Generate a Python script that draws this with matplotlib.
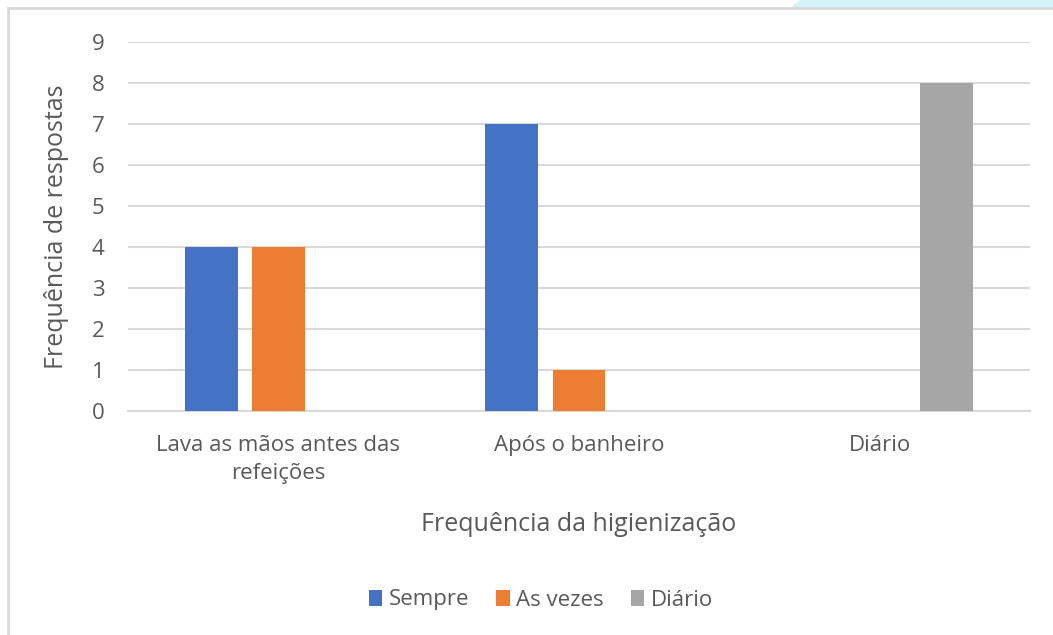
import matplotlib
matplotlib.use("Agg")
import matplotlib.pyplot as plt
import numpy as np
from matplotlib.patches import Rectangle, Polygon

categories = ["Lava as mãos antes das\nrefeições", "Após o banheiro", "Diário"]
series_names = ["Sempre", "As vezes", "Diário"]
sempre = [4, 7, 0]
as_vezes = [4, 1, 0]
diario = [0, 0, 8]
colors = ["#4472C4", "#ED7D31", "#A5A5A5"]
yticks = list(range(0, 10))

plt.rcParams['font.family'] = ['Open Sans', 'DejaVu Sans']
txt = "#595959"

fig = plt.figure(figsize=(10.53, 6.35), dpi=100)
# outer chart border and decoration
fig.patches.append(Polygon([[800/1053, 1], [1, 1], [1, 1 - 8/635], [790/1053, 1 - 8/635]],
                           closed=True, transform=fig.transFigure, facecolor="#d2f4f8",
                           edgecolor="none", zorder=0))
fig.patches.append(Rectangle((8/1053, -0.1), 1.2, 1 - 8/635 + 0.1, transform=fig.transFigure,
                             fill=False, edgecolor="#d9d9d9", linewidth=2, zorder=1))

ax = fig.add_axes([128/1053, 1 - 411/635, (1030 - 128)/1053, (411 - 42)/635])
x = np.arange(len(categories)) + 0.5
w = 0.176
off = 0.223
for i, (vals, name) in enumerate(zip([sempre, as_vezes, diario], series_names)):
    ax.bar(x + (i - 1) * off, vals, width=w, color=colors[i], label=name, zorder=3)

ax.set_xlim(0, 3)
ax.set_ylim(0, 9)
ax.set_yticks(yticks)
ax.set_xticks(x)
ax.set_xticklabels(categories, fontsize=16, color=txt, linespacing=1.45)
ax.tick_params(axis='y', labelsize=16, labelcolor=txt, length=0, pad=17)
ax.tick_params(axis='x', length=0, pad=17)
ax.grid(axis='y', color="#d9d9d9", linewidth=1.5, zorder=0)
for s in ["top", "right", "left"]:
    ax.spines[s].set_visible(False)
ax.spines["bottom"].set_color("#d9d9d9")
ax.spines["bottom"].set_linewidth(1.5)
ax.set_xlabel("Frequência da higienização", fontsize=18, color=txt, labelpad=20)
ax.set_ylabel("Frequência de respostas", fontsize=18, color=txt, labelpad=16)

leg = fig.legend(loc="center", bbox_to_anchor=(541/1053, 1 - 600/635), ncol=3, frameon=False,
                 fontsize=16, handlelength=0.6, handleheight=0.7, handletextpad=0.3,
                 columnspacing=1.2, labelcolor=txt)

fig.savefig("out.png", dpi=100, facecolor="white")
